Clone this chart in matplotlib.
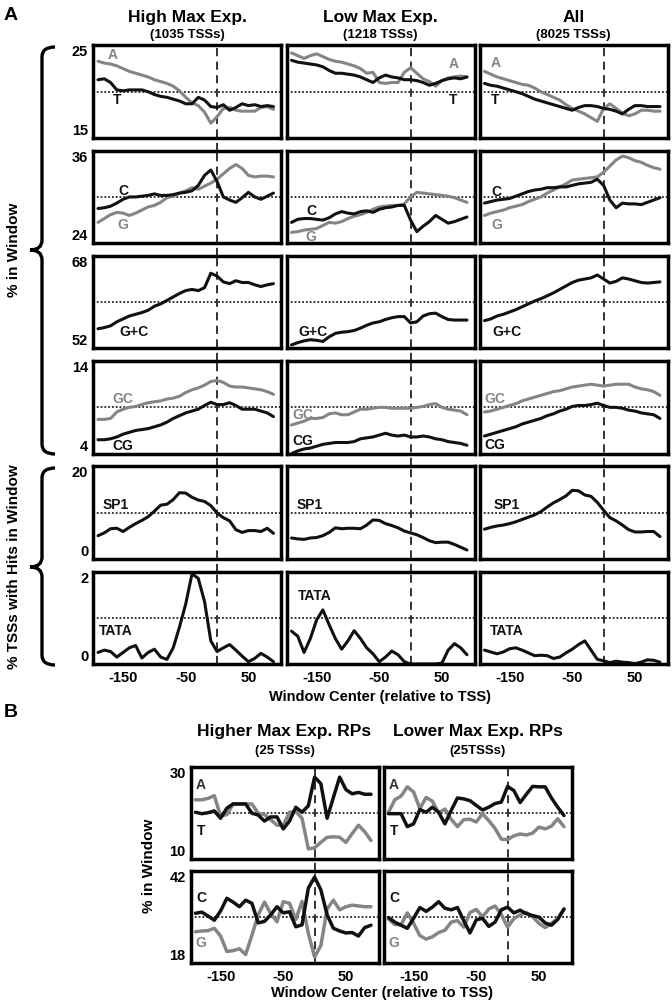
import matplotlib
matplotlib.use('Agg')
import matplotlib.pyplot as plt
from matplotlib.path import Path
from matplotlib.patches import PathPatch

plt.rcParams['font.family'] = ['Liberation Sans', 'DejaVu Sans']
plt.rcParams['font.weight'] = 'bold'

W, H = 672, 1005

# window centers (relative to TSS)
window = [-190, -180, -170, -160, -150, -140, -130, -120, -110, -100,
          -90, -80, -70, -60, -50, -40, -30, -20, -10, 0,
          10, 20, 30, 40, 50, 60, 70, 80, 90]

# ---- A: A / T ----
high_A = [23.3, 23.1, 23.0, 22.8, 22.5, 22.2, 22.0, 21.8, 21.6, 21.3, 21.1, 20.9, 20.6, 20.1, 19.4,
          18.8, 18.5, 17.8, 16.6, 17.3, 18.2, 18.3, 18.0, 17.9, 17.9, 17.9, 18.3, 18.4, 18.1]
high_T = [21.3, 21.4, 21.0, 20.2, 20.1, 20.2, 20.2, 20.2, 20.0, 19.7, 19.5, 19.4, 19.2, 19.0, 18.7,
          18.7, 19.4, 19.1, 18.4, 18.3, 18.6, 18.0, 18.3, 18.7, 18.5, 18.6, 18.4, 18.5, 18.4]
low_A = [24.2, 23.9, 23.6, 23.9, 24.1, 23.8, 23.5, 23.3, 23.2, 23.0, 22.8, 22.5, 22.0, 22.1, 21.0,
         20.9, 21.0, 21.0, 22.1, 22.6, 22.0, 21.4, 21.1, 20.6, 21.2, 21.5, 21.6, 21.7, 21.6]
low_T = [23.4, 23.2, 23.1, 23.0, 22.9, 22.7, 22.3, 22.0, 22.0, 21.9, 21.8, 21.6, 21.3, 21.0, 21.5,
         21.8, 21.6, 21.5, 21.3, 21.3, 21.2, 21.0, 20.7, 20.9, 21.2, 21.4, 21.5, 21.4, 21.6]
all_A = [22.2, 21.9, 21.6, 21.4, 21.2, 21.0, 20.8, 20.7, 20.4, 20.0, 19.7, 19.4, 19.1, 18.6, 18.2,
         17.9, 17.6, 17.2, 16.8, 18.2, 18.7, 18.2, 17.7, 17.4, 17.6, 18.0, 18.0, 17.9, 17.9]
all_T = [20.9, 20.7, 20.6, 20.4, 20.2, 20.0, 19.8, 19.5, 19.2, 19.0, 18.8, 18.6, 18.4, 18.2, 18.0,
         18.3, 18.5, 18.5, 18.4, 18.2, 18.1, 17.9, 17.6, 18.1, 18.5, 18.5, 18.4, 18.4, 18.4]

# ---- A: C / G ----
high_C = [28.5, 28.6, 28.8, 29.2, 29.7, 30.0, 30.0, 30.1, 30.2, 30.4, 30.2, 30.2, 30.3, 30.5, 30.6,
          30.8, 31.5, 32.8, 33.5, 32.0, 30.0, 29.6, 29.3, 29.9, 30.6, 30.0, 29.7, 30.1, 30.5]
high_G = [26.7, 27.2, 27.7, 28.0, 27.9, 27.6, 27.9, 28.3, 28.7, 28.9, 29.3, 29.9, 30.1, 30.5, 30.8,
          31.2, 31.0, 31.4, 31.8, 32.3, 33.0, 33.7, 34.2, 33.7, 32.8, 32.6, 32.7, 32.7, 32.6]
low_C = [26.7, 27.1, 27.2, 27.2, 27.1, 27.0, 27.3, 27.8, 28.1, 27.9, 27.8, 28.1, 28.2, 28.0, 28.4,
         28.6, 28.7, 28.9, 28.9, 27.0, 25.5, 26.2, 26.8, 27.6, 27.1, 26.6, 26.8, 27.1, 27.4]
low_G = [25.4, 25.5, 25.7, 25.8, 25.9, 26.3, 26.7, 26.6, 26.8, 27.2, 27.5, 27.7, 28.0, 28.4, 28.7,
         28.8, 28.9, 28.9, 29.1, 30.0, 30.6, 30.5, 30.4, 30.3, 30.2, 30.1, 29.9, 29.6, 29.3]
all_C = [29.2, 29.4, 29.6, 29.7, 29.8, 30.1, 30.4, 30.7, 30.9, 31.0, 31.2, 31.2, 31.3, 31.3, 31.5,
         31.7, 31.8, 31.9, 32.3, 31.5, 29.6, 28.6, 29.2, 29.1, 29.1, 29.0, 29.3, 29.6, 29.9]
all_G = [27.6, 27.9, 28.1, 28.3, 28.6, 28.8, 29.0, 29.4, 29.7, 30.0, 30.5, 30.9, 31.3, 31.7, 32.2,
         32.3, 32.4, 32.5, 32.6, 33.2, 34.0, 34.8, 35.3, 35.1, 34.7, 34.5, 34.1, 33.8, 33.6]

# ---- A: G+C ----
high_GplusC = [55.4, 55.6, 55.9, 56.6, 57.1, 57.6, 57.9, 58.2, 58.6, 59.3, 59.7, 60.3, 60.9, 61.5, 62.0,
               62.2, 62.0, 62.5, 65.0, 64.5, 63.5, 63.2, 63.7, 63.4, 63.4, 63.0, 62.7, 63.0, 63.2]
low_GplusC = [52.6, 53.0, 53.3, 53.5, 53.4, 53.2, 54.0, 54.6, 54.8, 54.9, 55.1, 55.5, 56.0, 56.4, 56.6,
              57.0, 57.3, 57.5, 57.5, 56.4, 56.6, 57.6, 58.0, 58.1, 57.5, 57.0, 56.9, 56.9, 56.9]
all_GplusC = [56.8, 57.1, 57.6, 57.9, 58.3, 58.7, 59.2, 59.7, 60.2, 60.6, 61.1, 61.6, 62.2, 62.8, 63.4,
              63.8, 64.0, 64.2, 64.7, 64.0, 63.3, 63.6, 64.2, 64.0, 63.7, 63.4, 63.3, 63.4, 63.5]

# ---- A: GC / CG dinucleotides ----
high_GC = [7.7, 7.7, 7.8, 8.5, 8.8, 9.0, 9.1, 9.3, 9.5, 9.6, 9.7, 9.9, 10.0, 10.2, 10.6,
           10.9, 11.1, 11.4, 11.8, 11.9, 11.7, 11.3, 11.2, 11.2, 11.1, 11.0, 10.9, 10.7, 10.4]
high_CG = [5.5, 5.5, 5.6, 5.8, 6.1, 6.3, 6.5, 6.6, 6.7, 6.9, 7.1, 7.4, 7.8, 8.1, 8.4,
           8.6, 8.8, 9.2, 9.55, 9.3, 9.3, 9.5, 9.2, 8.8, 8.8, 8.8, 8.6, 8.4, 8.0]
low_GC = [7.1, 7.3, 7.5, 7.8, 7.8, 7.9, 8.3, 8.4, 8.2, 8.2, 8.5, 8.8, 8.8, 8.9, 9.0,
          9.0, 8.9, 8.9, 8.9, 8.9, 9.0, 9.1, 9.3, 9.4, 9.0, 8.8, 8.7, 8.6, 8.2]
low_CG = [4.0, 4.3, 4.5, 4.6, 4.8, 5.0, 5.1, 5.2, 5.2, 5.2, 5.3, 5.6, 5.7, 5.8, 6.0,
          6.2, 6.0, 5.9, 6.0, 5.8, 5.8, 5.9, 5.8, 5.6, 5.5, 5.3, 5.2, 5.1, 4.9]
all_GC = [8.5, 8.6, 8.8, 9.0, 9.2, 9.4, 9.7, 9.9, 10.1, 10.3, 10.5, 10.7, 10.8, 11.0, 11.2,
          11.3, 11.4, 11.5, 11.4, 11.3, 11.4, 11.5, 11.5, 11.5, 11.2, 11.0, 10.9, 10.7, 10.3]
all_CG = [5.9, 6.1, 6.3, 6.5, 6.7, 6.9, 7.2, 7.4, 7.6, 7.8, 8.1, 8.3, 8.6, 8.8, 9.1,
          9.2, 9.2, 9.3, 9.45, 9.2, 9.0, 9.0, 8.9, 8.7, 8.6, 8.4, 8.3, 8.2, 7.8]

# ---- A: motif hits ----
high_SP1 = [5.0, 5.6, 6.5, 6.6, 5.9, 6.8, 7.6, 8.3, 9.1, 10.3, 11.6, 11.8, 12.8, 14.3, 14.2,
            13.3, 12.7, 12.4, 11.5, 9.9, 8.9, 8.2, 6.3, 5.7, 6.1, 6.1, 5.9, 6.6, 5.5]
low_SP1 = [4.5, 4.3, 4.2, 4.5, 4.6, 5.0, 5.7, 6.7, 6.5, 6.6, 6.6, 6.5, 7.3, 8.4, 8.3,
           7.6, 7.2, 6.7, 6.0, 5.6, 5.2, 4.6, 3.9, 3.5, 3.6, 3.6, 3.1, 2.5, 1.9]
all_SP1 = [6.4, 6.8, 7.1, 7.3, 7.6, 8.0, 8.5, 9.0, 9.5, 10.2, 11.2, 12.1, 12.8, 13.6, 14.8,
           14.7, 13.8, 13.5, 12.2, 10.5, 8.9, 8.2, 7.3, 6.3, 5.8, 5.8, 5.9, 5.9, 4.8]
high_TATA = [0.25, 0.30, 0.27, 0.15, 0.25, 0.35, 0.40, 0.13, 0.25, 0.32, 0.15, 0.10, 0.35, 0.80, 1.30,
             1.95, 1.85, 1.35, 0.50, 0.27, 0.35, 0.42, 0.30, 0.17, 0.05, 0.12, 0.23, 0.15, 0.05]
low_TATA = [0.71, 0.60, 0.25, 0.55, 0.95, 1.17, 0.85, 0.55, 0.32, 0.50, 0.72, 0.55, 0.35, 0.22, 0.05,
            0.15, 0.28, 0.20, 0.05, 0.0, 0.0, 0.0, 0.0, 0.0, 0.02, 0.30, 0.44, 0.35, 0.20]
all_TATA = [0.30, 0.26, 0.22, 0.26, 0.33, 0.35, 0.30, 0.24, 0.18, 0.19, 0.18, 0.12, 0.15, 0.24, 0.32,
            0.42, 0.50, 0.30, 0.10, 0.07, 0.03, 0.06, 0.04, 0.03, 0.01, 0.04, 0.09, 0.08, 0.04]

# ---- B: ribosomal protein genes ----
rp_hi_T = [20.1, 19.8, 20.0, 20.4, 18.8, 21.0, 21.9, 21.9, 21.9, 19.9, 19.5, 18.2, 19.1, 19.1, 16.5,
           18.2, 21.2, 20.1, 21.5, 27.7, 26.3, 18.8, 23.3, 27.7, 25.0, 24.1, 24.4, 24.0, 24.0]
rp_hi_A = [22.8, 22.8, 23.1, 23.7, 19.3, 19.6, 21.9, 21.9, 21.9, 21.9, 19.9, 19.6, 18.5, 17.3, 17.3,
           20.1, 20.3, 18.8, 12.2, 12.4, 13.6, 14.7, 14.8, 14.7, 13.6, 15.5, 17.3, 15.9, 14.0]
rp_lo_T = [19.8, 19.8, 19.8, 17.0, 17.6, 20.7, 20.1, 21.2, 20.1, 17.6, 20.5, 23.2, 23.0, 22.6, 21.6,
           20.6, 21.2, 22.0, 22.3, 25.7, 24.8, 22.2, 24.0, 25.7, 25.6, 25.6, 23.2, 21.2, 19.4]
rp_lo_A = [20.1, 22.8, 23.6, 25.6, 24.5, 20.9, 23.3, 22.5, 20.0, 20.8, 18.6, 17.0, 18.5, 18.6, 18.0,
           19.8, 18.3, 16.6, 14.3, 14.2, 15.0, 15.4, 15.2, 15.6, 16.9, 16.5, 17.1, 18.7, 17.0]
rp_hi_C = [30.9, 31.2, 30.2, 29.1, 31.5, 34.8, 33.8, 32.6, 34.3, 33.5, 28.4, 28.8, 30.5, 32.6, 31.0,
           31.3, 27.4, 27.9, 37.4, 40.3, 37.0, 30.5, 27.0, 26.3, 25.8, 25.9, 25.0, 27.2, 27.8]
rp_hi_G = [26.1, 26.3, 26.4, 27.0, 25.0, 21.0, 21.2, 21.7, 20.2, 25.2, 30.5, 33.8, 30.8, 28.7, 33.9,
           33.5, 29.3, 34.0, 25.7, 19.6, 22.5, 32.0, 34.3, 31.8, 32.6, 33.0, 32.8, 32.6, 32.6]
rp_lo_C = [29.8, 28.6, 27.8, 27.0, 29.6, 32.4, 31.4, 32.5, 33.9, 32.2, 31.8, 32.4, 29.0, 25.8, 29.2,
           29.6, 27.5, 28.6, 31.8, 32.5, 31.0, 31.7, 30.8, 30.3, 29.9, 28.4, 27.8, 29.3, 32.0]
rp_lo_G = [29.4, 28.0, 27.9, 31.0, 28.3, 25.1, 24.2, 24.8, 25.9, 26.5, 28.6, 29.0, 27.3, 31.1, 31.9,
           30.0, 32.0, 32.8, 30.6, 27.3, 29.5, 30.5, 31.1, 30.0, 28.3, 27.2, 28.3, 29.5, 32.0]

col_titles = ["High Max Exp.", "Low Max Exp.", "All"]
col_counts = ["(1035 TSSs)", "(1218 TSSs)", "(8025 TSSs)"]
b_titles = ["Higher Max Exp. RPs", "Lower Max Exp. RPs"]
b_counts = ["(25 TSSs)", "(25TSSs)"]
xticks = [-150, -50, 50]

GRAY = '#858585'
BLACK = '#111111'

fig = plt.figure(figsize=(W / 100, H / 100), dpi=100)

# overlay in pixel coordinates for braces and free text
ov = fig.add_axes([0, 0, 1, 1], zorder=0)
ov.set_xlim(0, W)
ov.set_ylim(H, 0)
ov.axis('off')


def px_box(x0, y0, w, h):
    return [x0 / W, 1 - (y0 + h) / H, w / W, h / H]


def panel(x0, y0, w, h, ylim, series, labels, ytick_on, xtick_on, ext, lw=2.2):
    ax = fig.add_axes(px_box(x0, y0, w, h), zorder=2)
    lo, hi = ylim
    ax.set_xlim(-198, 102)
    ax.set_ylim(lo, hi)
    ax.axhline((lo + hi) / 2, color='#222222', lw=1.3, ls=(0, (1, 1.1)), zorder=1)
    ax.axvline(0, ymin=-ext, ymax=1, clip_on=False, color='#222222', lw=1.3,
               ls=(0, (4.5, 3)), zorder=1)
    for vals, color in series:
        ax.plot(window, vals, color=color, lw=lw, solid_joinstyle='round',
                solid_capstyle='round', zorder=3)
    for txt, xv, yv, color in labels:
        ax.text(xv, yv, txt, color=color, fontsize=10, fontweight='bold',
                ha='center', va='center', zorder=4)
    for s in ax.spines.values():
        s.set_linewidth(2.5)
        s.set_zorder(5)
    ax.tick_params(length=0, labelsize=10.5, pad=3.5)
    if ytick_on:
        ax.set_yticks([lo, hi])
        ax.set_yticklabels([str(lo), str(hi)], fontweight='bold')
        ylabs = ax.get_yticklabels()
        ylabs[0].set_verticalalignment('bottom')
        ylabs[1].set_verticalalignment('top')
    else:
        ax.set_yticks([])
    if xtick_on:
        ax.set_xticks(xticks)
        ax.set_xticklabels([str(t) for t in xticks], fontweight='bold')
        ax.tick_params(axis='x', pad=5)
    else:
        ax.set_xticks([])
    return ax


# ---------------- Part A ----------------
col_x = [93, 286.5, 479.5]
col_w = 188
row_y = [45.5 + i * 105.2 for i in range(6)]
row_h = 92.5
ext_a = (105.2 - row_h) / row_h

rows = [
    ((15, 25), [(high_A, GRAY), (high_T, BLACK)], [(low_A, GRAY), (low_T, BLACK)],
     [(all_A, GRAY), (all_T, BLACK)],
     [[("A", -166, 24.0, GRAY), ("T", -160, 19.1, BLACK)],
      [("A", 69, 23.0, GRAY), ("T", 68, 19.1, BLACK)],
      [("A", -173, 23.1, GRAY), ("T", -173, 19.1, BLACK)]]),
    ((24, 36), [(high_G, GRAY), (high_C, BLACK)], [(low_G, GRAY), (low_C, BLACK)],
     [(all_G, GRAY), (all_C, BLACK)],
     [[("C", -150, 30.8, BLACK), ("G", -150, 26.3, GRAY)],
      [("C", -159, 28.2, BLACK), ("G", -159, 24.8, GRAY)],
      [("C", -171, 30.7, BLACK), ("G", -171, 26.3, GRAY)]]),
    ((52, 68), [(high_GplusC, BLACK)], [(low_GplusC, BLACK)], [(all_GplusC, BLACK)],
     [[("G+C", -132, 54.9, BLACK)], [("G+C", -156, 54.9, BLACK)],
      [("G+C", -154, 54.9, BLACK)]]),
    ((4, 14), [(high_GC, GRAY), (high_CG, BLACK)], [(low_GC, GRAY), (low_CG, BLACK)],
     [(all_GC, GRAY), (all_CG, BLACK)],
     [[("GC", -150, 9.85, GRAY), ("CG", -150, 4.8, BLACK)],
      [("GC", -172, 8.2, GRAY), ("CG", -172, 5.4, BLACK)],
      [("GC", -173, 9.9, GRAY), ("CG", -173, 4.9, BLACK)]]),
    ((0, 20), [(high_SP1, BLACK)], [(low_SP1, BLACK)], [(all_SP1, BLACK)],
     [[("SP1", -161, 11.7, BLACK)], [("SP1", -161, 11.7, BLACK)],
      [("SP1", -155, 11.7, BLACK)]]),
    ((0, 2), [(high_TATA, BLACK)], [(low_TATA, BLACK)], [(all_TATA, BLACK)],
     [[("TATA", -161, 0.71, BLACK)], [("TATA", -153, 1.48, BLACK)],
      [("TATA", -155, 0.71, BLACK)]]),
]

for r, (ylim, s_hi, s_lo, s_all, labs) in enumerate(rows):
    for c, ser in enumerate([s_hi, s_lo, s_all]):
        panel(col_x[c], row_y[r], col_w, row_h, ylim, ser, labs[c],
              ytick_on=(c == 0), xtick_on=(r == 5),
              ext=(ext_a if r < 5 else 0))

for c in range(3):
    cx = col_x[c] + col_w / 2
    ov.text(cx, 17, col_titles[c], fontsize=12.5, fontweight='bold', ha='center', va='center')
    ov.text(cx, 35, col_counts[c], fontsize=9.5, fontweight='bold', ha='center', va='center')

ov.text(4, 15, "A", fontsize=14, fontweight='bold', ha='left', va='center')
ov.text(380, 697, "Window Center (relative to TSS)", fontsize=10.5, fontweight='bold',
        ha='center', va='center')


def brace(x0, y_top, y_mid, y_bot, hook=13, tip=12, r=10):
    verts = [(x0 + hook, y_top), (x0, y_top), (x0, y_top + r),
             (x0, y_mid - r),
             (x0, y_mid), (x0 - tip, y_mid),
             (x0, y_mid), (x0, y_mid + r),
             (x0, y_bot - r),
             (x0, y_bot), (x0 + hook, y_bot)]
    codes = [Path.MOVETO, Path.CURVE3, Path.CURVE3, Path.LINETO,
             Path.CURVE3, Path.CURVE3, Path.CURVE3, Path.CURVE3,
             Path.LINETO, Path.CURVE3, Path.CURVE3]
    ov.add_patch(PathPatch(Path(verts, codes), fill=False, lw=2.4, color='black',
                           capstyle='butt'))


brace(42, 47, 250, 454)
brace(42, 468, 567, 665)
ov.text(14, 250, "% in Window", rotation=90, fontsize=11, fontweight='bold',
        ha='center', va='center')
ov.text(14, 567, "% TSSs with Hits in Window", rotation=90, fontsize=11,
        fontweight='bold', ha='center', va='center')

# ---------------- Part B ----------------
bcol_x = [190.5, 383.5]
brow_y = [766.5, 870.5]
brow_h = 92.5
ext_b = (brow_y[1] - brow_y[0] - brow_h) / brow_h

b_rows = [
    ((10, 30), [(rp_hi_A, GRAY), (rp_hi_T, BLACK)], [(rp_lo_A, GRAY), (rp_lo_T, BLACK)],
     [("A", -181, 26.1, '#333333'), ("T", -181, 16.1, BLACK)]),
    ((18, 42), [(rp_hi_G, GRAY), (rp_hi_C, BLACK)], [(rp_lo_G, GRAY), (rp_lo_C, BLACK)],
     [("C", -181, 34.8, BLACK), ("G", -181, 23.3, GRAY)]),
]
for r, (ylim, s_hi, s_lo, labs) in enumerate(b_rows):
    for c, ser in enumerate([s_hi, s_lo]):
        panel(bcol_x[c], brow_y[r], col_w, brow_h, ylim, ser, labs,
              ytick_on=(c == 0), xtick_on=(r == 1),
              ext=(ext_b if r == 0 else 0), lw=2.5)

for c in range(2):
    cx = bcol_x[c] + col_w / 2
    ov.text(cx, 731, b_titles[c], fontsize=12.5, fontweight='bold', ha='center', va='center')
    ov.text(cx, 751, b_counts[c], fontsize=9.5, fontweight='bold', ha='center', va='center')

ov.text(4, 712, "B", fontsize=14, fontweight='bold', ha='left', va='center')
ov.text(149, 866, "% in Window", rotation=90, fontsize=11, fontweight='bold',
        ha='center', va='center')
ov.text(382, 993, "Window Center (relative to TSS)", fontsize=10.5, fontweight='bold',
        ha='center', va='center')

fig.savefig('out.png', dpi=100)
